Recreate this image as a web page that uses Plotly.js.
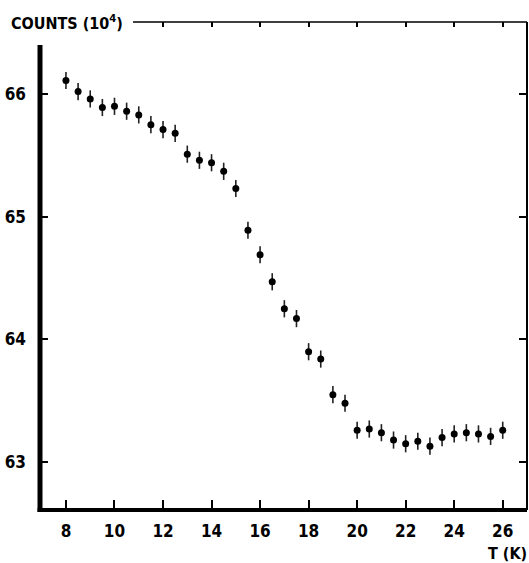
<!DOCTYPE html>
<html>
<head>
<meta charset="utf-8">
<script src="https://cdn.plot.ly/plotly-3.0.1.min.js"></script>
<style>html,body{margin:0;padding:0;background:#fff;}#chart{width:529px;height:563px;}</style>
</head>
<body>
<div id="chart"></div>
<script>
const temperatureK = [8, 8.5, 9, 9.5, 10, 10.5, 11, 11.5, 12, 12.5, 13, 13.5, 14, 14.5, 15, 15.5, 16, 16.5, 17, 17.5, 18, 18.5, 19, 19.5, 20, 20.5, 21, 21.5, 22, 22.5, 23, 23.5, 24, 24.5, 25, 25.5, 26];
const counts = [66.11, 66.02, 65.96, 65.89, 65.90, 65.86, 65.83, 65.75, 65.71, 65.68, 65.51, 65.46, 65.44, 65.37, 65.23, 64.89, 64.69, 64.47, 64.25, 64.17, 63.90, 63.84, 63.55, 63.48, 63.26, 63.27, 63.24, 63.18, 63.15, 63.17, 63.13, 63.20, 63.23, 63.24, 63.23, 63.21, 63.26];
const countsErr = [0.07, 0.07, 0.07, 0.07, 0.07, 0.07, 0.07, 0.07, 0.07, 0.07, 0.07, 0.07, 0.07, 0.07, 0.07, 0.07, 0.07, 0.07, 0.07, 0.07, 0.07, 0.07, 0.07, 0.07, 0.07, 0.07, 0.07, 0.07, 0.07, 0.07, 0.07, 0.07, 0.07, 0.07, 0.07, 0.07, 0.07];
const xTickVals = [8, 10, 12, 14, 16, 18, 20, 22, 24, 26];
const xTopTickVals = [12, 14, 16, 18, 20, 22, 24, 26];
const yTickVals = [63, 64, 65, 66];

const FONT = "'DejaVu Sans Condensed', 'Liberation Sans Narrow', 'Liberation Sans', sans-serif";

const data = [
  {
    x: temperatureK, y: counts, type: 'scatter', mode: 'markers',
    marker: {color: '#000', size: 7},
    error_y: {type: 'data', array: countsErr, visible: true, color: '#222', thickness: 1.6, width: 0},
    showlegend: false, hoverinfo: 'x+y'
  },
  {
    x: [xTopTickVals[0], xTopTickVals[xTopTickVals.length-1]], y: [63, 63], xaxis: 'x2', yaxis: 'y',
    type: 'scatter', mode: 'markers', marker: {size: 0.1, opacity: 0}, showlegend: false, hoverinfo: 'skip'
  }
];

const layout = {
  width: 529, height: 563,
  margin: {l: 40, r: 2, t: 22, b: 53},
  paper_bgcolor: '#fff', plot_bgcolor: '#fff',
  font: {family: FONT, color: '#000', size: 17},
  xaxis: {
    range: [6.93, 27.0], tickvals: xTickVals, ticktext: xTickVals.map(String),
    ticks: 'inside', ticklen: 10, tickwidth: 2, tickcolor: '#000',
    showgrid: false, zeroline: false, showline: false,
    tickfont: {family: FONT, size: 17, color: '#000', weight: 'bold'},
    ticklabelstandoff: 9
  },
  xaxis2: {
    range: [6.93, 27.0], overlaying: 'x', side: 'top', anchor: 'y',
    tickvals: xTopTickVals, showticklabels: false,
    ticks: 'inside', ticklen: 5, tickwidth: 2, tickcolor: '#000',
    showgrid: false, zeroline: false, showline: false
  },
  yaxis: {
    range: [62.61, 66.587], tickvals: yTickVals, ticktext: yTickVals.map(String),
    ticks: 'inside', ticklen: 8, tickwidth: 2, tickcolor: '#000', mirror: 'ticks',
    showgrid: false, zeroline: false, showline: false,
    tickfont: {family: FONT, size: 17, color: '#000', weight: 'bold'},
    ticklabelstandoff: 13
  },
  shapes: [
    {type: 'line', xref: 'paper', yref: 'paper', x0: 0, x1: 0, y0: -0.004, y1: 0.953, line: {color: '#000', width: 5}},
    {type: 'line', xref: 'paper', yref: 'paper', x0: -0.005, x1: 1, y0: 0, y1: 0, line: {color: '#000', width: 4}},
    {type: 'line', xref: 'paper', yref: 'paper', x0: 0.191, x1: 1, y0: 1, y1: 1, line: {color: '#000', width: 1.5}},
    {type: 'line', xref: 'paper', yref: 'paper', x0: 1, x1: 1, y0: 0, y1: 1, line: {color: '#000', width: 2}}
  ],
  annotations: [
    {text: 'COUNTS (10<sup>4</sup>)', xref: 'paper', yref: 'paper', x: -0.064, y: 1.0, xanchor: 'left', yanchor: 'middle',
     showarrow: false, font: {family: FONT, size: 16, color: '#000', weight: 'bold'}},
    {text: 'T (K)', xref: 'paper', yref: 'paper', x: 1.004, y: -0.09, xanchor: 'right', yanchor: 'middle',
     showarrow: false, font: {family: FONT, size: 16, color: '#000', weight: 'bold'}}
  ]
};

Plotly.newPlot('chart', data, layout, {displayModeBar: false, staticPlot: true});
</script>
</body>
</html>
